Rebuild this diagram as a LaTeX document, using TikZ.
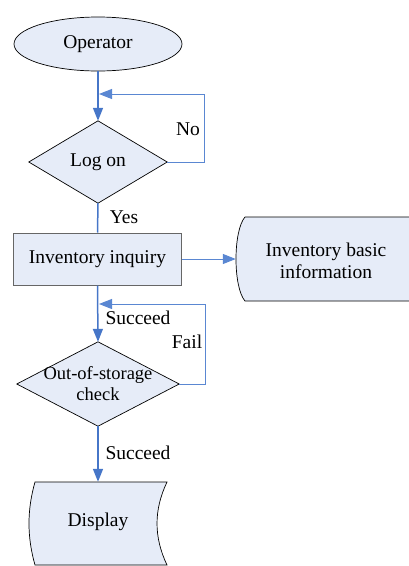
\documentclass[tikz,border=0pt]{standalone}
\usepackage{fontspec}
\setmainfont{Liberation Serif}
\usetikzlibrary{shapes.geometric,arrows.meta}
\definecolor{boxfill}{RGB}{230,236,248}
\definecolor{flowblue}{RGB}{70,118,200}
\definecolor{loopblue}{RGB}{90,135,210}
\begin{document}
\begin{tikzpicture}[x=1pt,y=-1pt,
  txt/.style={font=\fontsize{19.5}{22}\selectfont, align=center},
  shapebox/.style={draw=black, fill=boxfill, line width=0.7pt},
  flow/.style={draw=flowblue, line width=1.5pt, -{Triangle[length=13pt,width=10pt]}},
  loopln/.style={draw=loopblue, line width=1pt, -{Triangle[length=13pt,width=10pt]}},
  lbl/.style={txt, inner sep=0pt}]
\useasboundingbox (0,0) rectangle (408,566);
% Operator
\node[ellipse, shapebox, minimum width=168pt, minimum height=54pt, inner sep=0pt, txt] (op) at (98,44) {Operator};
% Log on (diamond drawn on a frame node)
\node[draw=none, minimum width=138pt, minimum height=82pt, inner sep=0pt] (lg) at (98,162) {};
\filldraw[shapebox] (lg.north) -- (lg.east) -- (lg.south) -- (lg.west) -- cycle;
\node[txt] (lgt) at (lg) {Log on};
% Inventory inquiry
\node[rectangle, draw=black!60, fill=boxfill, line width=1pt, minimum width=168pt, minimum height=52pt, inner sep=0pt, txt] (inq) at (97.5,259) {Inventory inquiry};
% Inventory basic information (stored data, cut at right)
\node[draw=none, minimum width=172pt, minimum height=84pt, inner sep=0pt] (ibi) at (322,259) {};
\fill[boxfill] (245,217) -- (410,217) -- (410,301) -- (245,301) .. controls (233,287) and (233,231) .. (245,217);
\draw[black, line width=0.7pt] (410,217) -- (245,217) .. controls (233,231) and (233,287) .. (245,301) -- (410,301);
\node[txt] (ibit) at (326,261) {Inventory basic\\information};
% Out-of-storage check
\node[draw=none, minimum width=162pt, minimum height=84pt, inner sep=0pt] (chk) at (98,384) {};
\filldraw[shapebox] (chk.north) -- (chk.east) -- (chk.south) -- (chk.west) -- cycle;
\node[font=\fontsize{18.5}{21}\selectfont, align=center, inner sep=0pt] (chkt) at (chk) {Out-of-storage\\check};
% Display
\node[draw=none, minimum width=132pt, minimum height=83pt, inner sep=0pt] (disp) at (101,523.5) {};
\filldraw[shapebox] (35,482) -- (167,482) .. controls (153.7,510) and (153.7,537) .. (167,565) -- (35,565) .. controls (27,537) and (27,510) .. (35,482) -- cycle;
\node[txt] (dispt) at (98,522) {Display};
% connectors
\coordinate (j1) at (99,94);
\coordinate (j2) at (99,304);
\draw[flow] (op.south) -- (lg.north);
\draw[loopln] (lg.east) -- (204,162) |- (j1);
\draw[flowblue, line width=1.5pt] (lg.south) -- (inq.north);
\draw[loopln] (inq.east) -- (ibi.west);
\draw[flow] (inq.south) -- (chk.north);
\draw[loopln] (chk.east) -- (205,384) |- (j2);
\draw[flow] (chk.south) -- (disp.north -| chk.south);
% labels
\node[lbl] (lno) at (188,129) {No};
\node[lbl] (lyes) at (124,217) {Yes};
\node[lbl] (ls1) at (138,318) {Succeed};
\node[lbl] (lfail) at (187,342) {Fail};
\node[lbl] (ls2) at (138,453) {Succeed};
\end{tikzpicture}
\end{document}
